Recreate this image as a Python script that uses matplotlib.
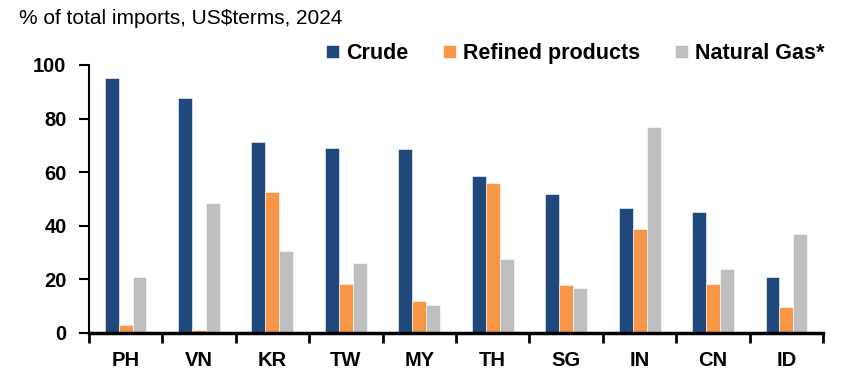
import numpy as np
import matplotlib.pyplot as plt

plt.rcParams['font.family'] = ['Liberation Sans', 'DejaVu Sans']

# Energy import shares by economy (% of total imports, 2024)
countries = ["PH", "VN", "KR", "TW", "MY", "TH", "SG", "IN", "CN", "ID"]
crude = [95.0, 87.8, 71.4, 69.1, 68.5, 58.7, 52.0, 46.8, 45.3, 21.0]
refined = [2.9, 1.1, 52.5, 18.3, 11.9, 56.0, 17.8, 38.9, 18.4, 9.8]
gas = [21.0, 48.3, 30.6, 26.2, 10.4, 27.6, 16.7, 76.9, 23.8, 36.9]

series = [("Crude", crude, "#1F497D"),
          ("Refined products", refined, "#F79646"),
          ("Natural Gas*", gas, "#BFBFBF")]

fig = plt.figure(figsize=(8.46, 3.75), dpi=100)
ax = fig.add_axes([0.105, 0.112, 0.868, 0.715])

x = np.arange(len(countries))
w = 0.19
for i, (name, vals, col) in enumerate(series):
    ax.bar(x + (i - 1) * w, vals, width=w, color=col, label=name,
           edgecolor="white", linewidth=0.4)

ax.set_xlim(-0.5, len(countries) - 0.5)
ax.set_ylim(0, 100)
ax.set_yticks(range(0, 101, 20))
ax.set_xticks(x)
ax.set_xticklabels(countries)
ax.set_xticks(np.arange(-0.5, len(countries)), minor=True)

for s in ["top", "right"]:
    ax.spines[s].set_visible(False)
ax.spines["bottom"].set_linewidth(2.5)
ax.spines["left"].set_linewidth(1.5)

ax.tick_params(axis="x", which="major", length=0, pad=13)
ax.tick_params(axis="x", which="minor", length=7, width=2, direction="out")
ax.tick_params(axis="y", length=7, width=1.5, direction="out", pad=9)
for lab in ax.get_xticklabels() + ax.get_yticklabels():
    lab.set_fontweight("bold")
    lab.set_fontsize(14.5)

fig.text(0.022, 0.952, "% of total imports, US$terms, 2024", fontsize=15,
         va="center", ha="left")

ax.legend(loc="lower right", bbox_to_anchor=(1.02, 0.955), ncol=3, frameon=False,
          prop={"weight": "bold", "size": 15.5}, handlelength=0.6, handleheight=0.6,
          handletextpad=0.35, columnspacing=1.6, borderaxespad=0.2)

fig.savefig("out.png", dpi=100)
